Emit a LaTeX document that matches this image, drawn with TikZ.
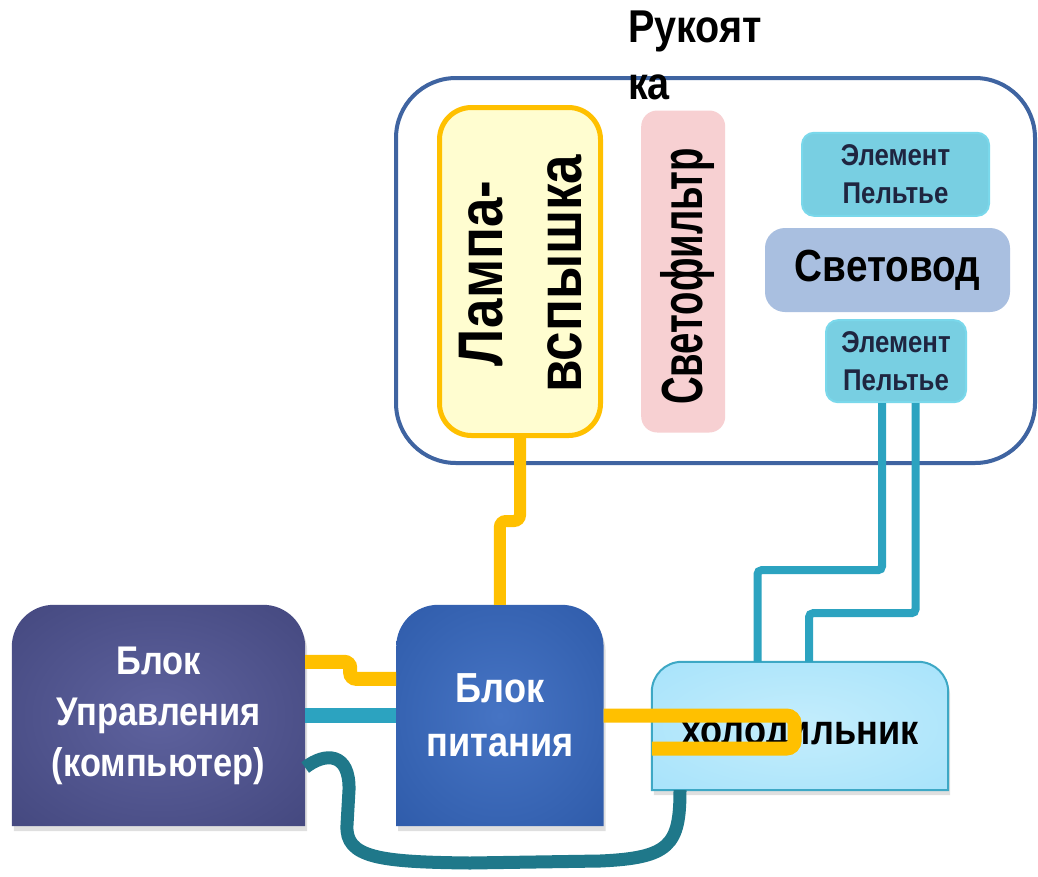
\documentclass[tikz,border=0pt]{standalone}
\usepackage{fontspec}
\setmainfont{Liberation Sans}
\newfontfamily\fnarrow{Liberation Sans}[FakeStretch=0.86]
\newfontfamily\fnarrower{Liberation Sans}[FakeStretch=0.84]
\newfontfamily\fslim{Liberation Sans}[FakeStretch=0.66]
\usepackage{tikz}
\usetikzlibrary{positioning, shadows, calc}

\definecolor{wireyel}{HTML}{FFC000}
\definecolor{wirecyan}{HTML}{2CA3C0}
\definecolor{wireteal}{HTML}{1F788A}
\definecolor{handleblue}{HTML}{3F64A1}
\definecolor{lampfill}{HTML}{FFFDD0}
\definecolor{filterfill}{HTML}{F7D0D2}
\definecolor{peltfill}{HTML}{78CFE2}
\definecolor{peltedge}{HTML}{7AD8EB}
\definecolor{guidefill}{HTML}{A9BFE0}
\definecolor{ctrlin}{HTML}{5E629E}
\definecolor{ctrlout}{HTML}{3A3E73}
\definecolor{psuin}{HTML}{4674C4}
\definecolor{psuout}{HTML}{2652A0}
\definecolor{fridgein}{HTML}{C4EDFC}
\definecolor{fridgeout}{HTML}{9CDFFA}
\definecolor{fridgeedge}{HTML}{3DA8C5}
\definecolor{peltink}{HTML}{1F2540}

\pgfdeclareradialshading{ctrlglow}{\pgfpointorigin}{color(0bp)=(ctrlin); color(50bp)=(ctrlout)}
\pgfdeclareradialshading{psuglow}{\pgfpointorigin}{color(0bp)=(psuin); color(50bp)=(psuout)}
\pgfdeclareradialshading{fridgeglow}{\pgfpointorigin}{color(0bp)=(fridgein); color(50bp)=(fridgeout)}

\pgfdeclarelayer{back}
\pgfsetlayers{back,main}

\begin{document}
\begin{tikzpicture}[x=1pt, y=-1pt,
    unit/.style={inner sep=0pt, align=center},
    part/.style={unit, rounded corners=#1},
    softshadow/.style={drop shadow={shadow xshift=2pt, shadow yshift=-5pt, opacity=0.25}},
    ywire/.style={draw=wireyel, line width=14pt, rounded corners=6pt},
    cwire/.style={draw=wirecyan, line width=#1, rounded corners=4pt}]
    \useasboundingbox (0,0) rectangle (1038,876);

    % handle with its parts
    \node[part=60pt, draw=handleblue, line width=4pt, minimum width=639pt, minimum height=385pt] (handle) at (715.5,270.5) {};
    \node[anchor=north west, inner sep=0pt, align=left, font=\fnarrow\bfseries\fontsize{46}{57}\selectfont] (grip) at (628,11) {Рукоят\\ка};
    \node[part=32pt, draw=wireyel, fill=lampfill, line width=5pt, minimum width=161pt, minimum height=328pt] (lamp) at (520,271.5) {};
    \node[unit, rotate=90, font=\fnarrower\bfseries\fontsize{63}{79}\selectfont] (lamptext) at ([xshift=1pt, yshift=-2pt]lamp.center) {Лампа-\\вспышка};
    \node[part=16pt, fill=filterfill, minimum width=84pt, minimum height=322pt, right=38pt of lamp] (filter) {};
    \node[unit, rotate=90, font=\fslim\bfseries\fontsize{58}{70}\selectfont] (filtertext) at ([xshift=4pt, yshift=-5pt]filter.center) {Светофильтр};
    \node[part=20pt, fill=guidefill, minimum width=245pt, minimum height=84pt, font=\fnarrow\bfseries\fontsize{45}{50}\selectfont] (guide) at (887.5,270) {Световод};
    \node[part=12pt, fill=peltfill, draw=peltedge, line width=2pt, minimum width=187pt, minimum height=83pt, text=peltink, font=\fnarrow\bfseries\fontsize{30}{38}\selectfont, above=11pt of guide, xshift=8pt] (peltA) {Элемент\\Пельтье};
    \node[part=12pt, fill=peltfill, draw=peltedge, line width=2pt, minimum width=140pt, minimum height=82pt, text=peltink, font=\fnarrow\bfseries\fontsize{30}{38}\selectfont, below=7pt of guide, xshift=8.5pt] (peltB) {Элемент\\Пельтье};

    % lower units
    \node[unit, minimum width=293pt, minimum height=221pt, text=white, font=\fnarrow\bfseries\fontsize{40}{51}\selectfont] (ctrl) at (158.5,715.5) {Блок\\Управления\\(компьютер)};
    \node[unit, minimum width=207pt, minimum height=221pt, text=white, font=\fnarrow\bfseries\fontsize{42}{54}\selectfont, right=91pt of ctrl] (psu) {Блок\\питания};
    \node[unit, minimum width=296pt, minimum height=128pt, font=\fnarrow\bfseries\fontsize{42}{50}\selectfont] (fridge) at (800,726) {\raisebox{-11pt}[\height][\depth]{холодильник}};

    \begin{pgfonlayer}{back}
        \fill[white] (0,0) rectangle (1038,876);
        \path[shading=ctrlglow, softshadow] (ctrl.south west) [rounded corners=42pt] -- (ctrl.north west) -- (ctrl.north east) [sharp corners] -- (ctrl.south east) -- cycle;
        \path[shading=psuglow, softshadow] (psu.south west) [rounded corners=42pt] -- (psu.north west) -- (psu.north east) [sharp corners] -- (psu.south east) -- cycle;
        \path[shading=fridgeglow, draw=fridgeedge, line width=2pt, softshadow] (fridge.south west) [rounded corners=30pt] -- (fridge.north west) -- (fridge.north east) [sharp corners] -- (fridge.south east) -- cycle;
    \end{pgfonlayer}

    % wires
    \draw[ywire, line width=12pt] (lamp.south) -- ++(0,83) -| (psu.north);
    \draw[ywire] ([yshift=-57pt]ctrl.north east) -- ++(45,0) |- ([yshift=-74pt]psu.north west);
    \draw[cwire=15pt] (ctrl.east) -- (psu.west);
    \draw[ywire, rounded corners=8pt] (psu.east) -- ++(191,0) -- ++(0,33) -- ([yshift=-22.5pt]fridge.west);
    \draw[cwire=8pt] ([xshift=-14pt]peltB.south) -- ++(0,167) -| ([xshift=-42.5pt]fridge.north);
    \draw[cwire=8pt] ([xshift=19.5pt]peltB.south) -- ++(0,210) -| ([xshift=9pt]fridge.north);
    \draw[draw=wireteal, line width=13pt] ([yshift=-52pt]ctrl.east) .. controls (325,752) and (350,752) .. (349,790)
        -- (347,825) .. controls (345,858) and (380,862) .. (470,863) -- (600,861)
        .. controls (670,858) and (680,845) .. ([xshift=-120pt]fridge.south);
\end{tikzpicture}
\end{document}
